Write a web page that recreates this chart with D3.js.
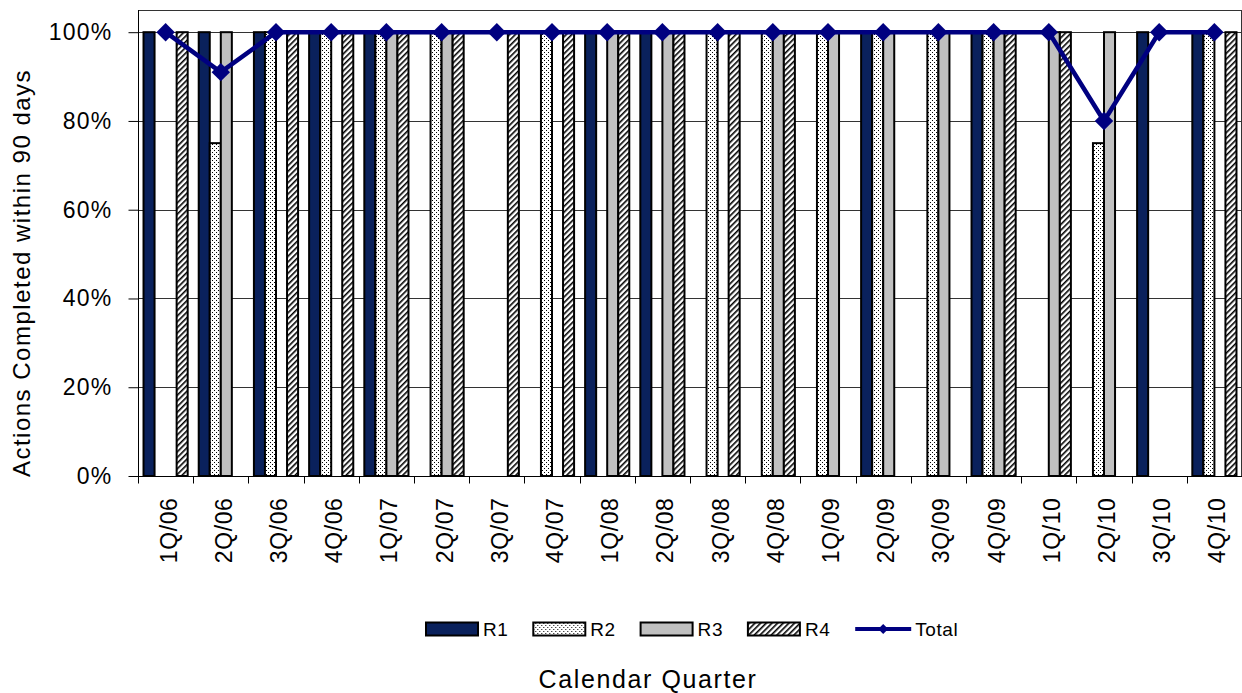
<!DOCTYPE html>
<html>
<head>
<meta charset="utf-8">
<script src="https://cdn.jsdelivr.net/npm/d3@7"></script>
<style>
  html, body { margin: 0; padding: 0; background: #fff; }
  svg { display: block; font-family: "Liberation Sans", Arial, sans-serif; }
</style>
</head>
<body>
<svg id="chart" width="1242" height="693"></svg>
<script>
// Calendar quarters on the category axis
const quarters = ["1Q/06","2Q/06","3Q/06","4Q/06","1Q/07","2Q/07","3Q/07","4Q/07",
                  "1Q/08","2Q/08","3Q/08","4Q/08","1Q/09","2Q/09","3Q/09","4Q/09",
                  "1Q/10","2Q/10","3Q/10","4Q/10"];
// Percent of actions completed within 90 days, per region (null = no actions that quarter)
const r1 = [100,100,100,100,100,null,null,null,100,100,null,null,null,100,null,100,null,null,100,100];
const r2 = [null,75,100,100,100,100,null,100,null,null,100,100,100,100,100,100,null,75,null,100];
const r3 = [null,100,null,null,100,100,null,null,100,100,null,100,100,100,100,100,100,100,null,null];
const r4 = [100,null,100,100,100,100,100,100,100,100,100,100,null,null,null,100,100,null,null,100];
const total = [100,91,100,100,100,100,100,100,100,100,100,100,100,100,100,100,100,80,100,100];
const seriesNames = ["R1","R2","R3","R4"];
const yTicks = [0,20,40,60,80,100];

const series = [r1, r2, r3, r4];
const svg = d3.select("#chart");
const font = "'Liberation Sans', Arial, sans-serif";

// Plot area
const plotLeft = 138, plotRight = 1241, plotTop = 10, plotBottom = 476;

const x0 = d3.scaleBand().domain(quarters).range([plotLeft, plotRight + 1]).paddingInner(0).paddingOuter(0);
const x1 = d3.scaleBand().domain(seriesNames).range([0, x0.bandwidth()]).paddingInner(0).paddingOuter(0.5);
const y = d3.scaleLinear().domain([0, 105]).range([plotBottom, plotTop]);

// Fill patterns
const defs = svg.append("defs");
const dots = defs.append("pattern").attr("id", "dots").attr("patternUnits", "userSpaceOnUse")
  .attr("width", 4).attr("height", 4);
dots.append("rect").attr("width", 4).attr("height", 4).attr("fill", "#fff");
dots.append("rect").attr("x", 0).attr("y", 0).attr("width", 1).attr("height", 1).attr("fill", "#000");
dots.append("rect").attr("x", 2).attr("y", 2).attr("width", 1).attr("height", 1).attr("fill", "#000");

const hatch = defs.append("pattern").attr("id", "hatch").attr("patternUnits", "userSpaceOnUse")
  .attr("width", 4).attr("height", 4).attr("patternTransform", "rotate(45)");
hatch.append("rect").attr("width", 4).attr("height", 4).attr("fill", "#fff");
hatch.append("rect").attr("x", 0).attr("y", 0).attr("width", 1.6).attr("height", 4).attr("fill", "#000");

const fills = { R1: "#0a215c", R2: "url(#dots)", R3: "#c0c0c0", R4: "url(#hatch)" };

// Gridlines and plot frame
const grid = svg.append("g");
grid.selectAll("line.grid").data(yTicks.filter(d => d > 0)).join("line")
  .attr("x1", plotLeft).attr("x2", plotRight)
  .attr("y1", d => Math.round(y(d)) + 0.5).attr("y2", d => Math.round(y(d)) + 0.5)
  .attr("stroke", "#333").attr("stroke-width", 1);
grid.append("line").attr("x1", plotLeft).attr("x2", plotRight).attr("y1", plotTop + 0.5).attr("y2", plotTop + 0.5)
  .attr("stroke", "#333");
grid.append("line").attr("x1", plotRight + 0.5).attr("x2", plotRight + 0.5).attr("y1", plotTop).attr("y2", plotBottom)
  .attr("stroke", "#333");

// Bars
const barData = [];
quarters.forEach((q, i) => {
  seriesNames.forEach((s, j) => {
    const v = series[j][i];
    if (v != null) barData.push({ q, s, v });
  });
});
svg.append("g").selectAll("rect").data(barData).join("rect")
  .attr("x", d => x0(d.q) + x1(d.s))
  .attr("y", d => y(d.v))
  .attr("width", x1.bandwidth())
  .attr("height", d => y(0) - y(d.v))
  .attr("fill", d => fills[d.s])
  .attr("stroke", "#000").attr("stroke-width", 2);

// Y axis
const yAxis = svg.append("g").attr("transform", `translate(${plotLeft + 0.5},0)`)
  .call(d3.axisLeft(y).tickValues(yTicks).tickSize(10).tickPadding(16).tickFormat(d => d + "%"));
yAxis.select(".domain").attr("stroke", "#000").attr("d", `M0,${plotTop}V${plotBottom}`);
yAxis.selectAll(".tick line").attr("stroke", "#000");
yAxis.selectAll(".tick text").attr("font-family", font).attr("font-size", 23)
  .attr("letter-spacing", 1.2).attr("fill", "#000");

// X axis: boundary tick marks and rotated category labels
const xAxis = svg.append("g").attr("transform", `translate(0,${plotBottom + 0.5})`)
  .call(d3.axisBottom(x0).tickSize(0).tickPadding(0));
xAxis.select(".domain").attr("stroke", "#000").attr("d", `M${plotLeft},0H${plotRight + 1}`);
xAxis.selectAll(".tick text")
  .attr("font-family", font).attr("font-size", 23).attr("letter-spacing", 0.6).attr("fill", "#000")
  .attr("text-anchor", "end").attr("dy", null)
  .attr("transform", "translate(3,21) rotate(-90)")
  .attr("dominant-baseline", "central");
const bounds = quarters.map(q => x0(q)).concat([x0.range()[1]]);
xAxis.selectAll("line.bound").data(bounds).join("line").attr("class", "bound")
  .attr("x1", d => Math.round(d) + 0.5).attr("x2", d => Math.round(d) + 0.5)
  .attr("y1", 0).attr("y2", 7).attr("stroke", "#000");

// Total line with diamond markers
const cx = q => x0(q) + x0.bandwidth() / 2;
const totalColor = "#000080";
svg.append("path").datum(total)
  .attr("d", d3.line().x((d, i) => cx(quarters[i])).y(d => y(d)))
  .attr("fill", "none").attr("stroke", totalColor).attr("stroke-width", 4.5).attr("stroke-linejoin", "round");
const diamond = d3.symbol().type(d3.symbolSquare).size(170);
svg.append("g").selectAll("path").data(total).join("path")
  .attr("d", diamond)
  .attr("transform", (d, i) => `translate(${cx(quarters[i])},${y(d)}) rotate(45)`)
  .attr("fill", totalColor);

// Axis titles
svg.append("text").attr("transform", "translate(30,273) rotate(-90)")
  .attr("text-anchor", "middle").attr("font-family", font).attr("font-size", 24)
  .attr("letter-spacing", 1.5).text("Actions Completed within 90 days");
svg.append("text").attr("x", 648).attr("y", 688)
  .attr("text-anchor", "middle").attr("font-family", font).attr("font-size", 25)
  .attr("letter-spacing", 1.6).text("Calendar Quarter");

// Legend
const legendItems = seriesNames.concat(["Total"]);
const legend = svg.append("g").attr("transform", "translate(426,629)");
const item = legend.selectAll("g").data(legendItems).join("g")
  .attr("transform", (d, i) => `translate(${i * 107.3},0)`);
item.filter(d => d !== "Total").append("rect")
  .attr("x", 0).attr("y", -6.5).attr("width", 52).attr("height", 13)
  .attr("fill", d => fills[d]).attr("stroke", "#000").attr("stroke-width", 2);
const tot = item.filter(d => d === "Total");
tot.append("line").attr("x1", 0).attr("x2", 56).attr("y1", 0).attr("y2", 0)
  .attr("stroke", totalColor).attr("stroke-width", 4);
tot.append("path").attr("d", d3.symbol().type(d3.symbolSquare).size(50))
  .attr("transform", "translate(28,0) rotate(45)").attr("fill", totalColor);
item.append("text")
  .attr("x", d => d === "Total" ? 60 : 57).attr("y", 7)
  .attr("font-family", font).attr("font-size", 19).attr("letter-spacing", 0.6)
  .text(d => d);
</script>
</body>
</html>
